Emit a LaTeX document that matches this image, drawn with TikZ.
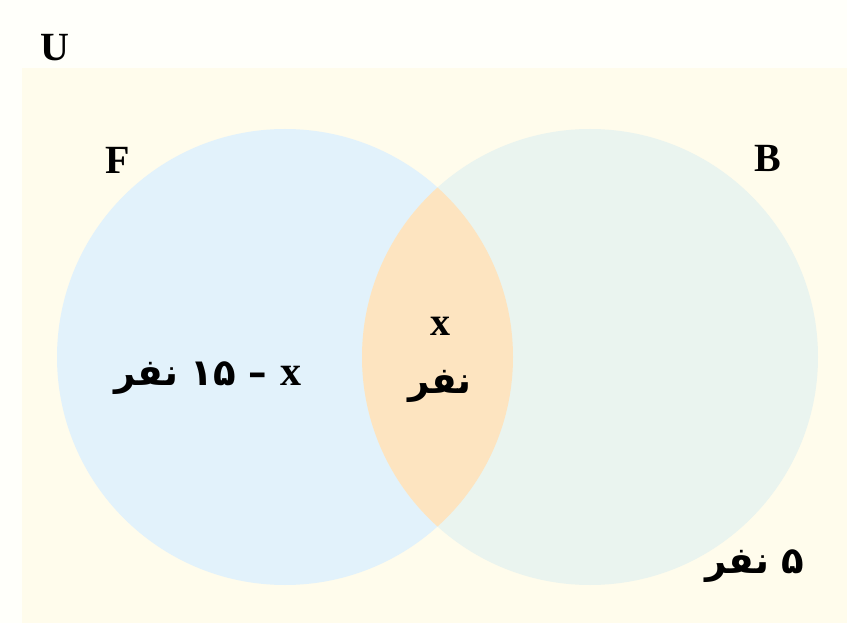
\documentclass[tikz,border=0pt]{standalone}
\usepackage{fontspec}
\setmainfont{Liberation Serif}
\newfontfamily\arabicfont[Script=Arabic]{DejaVu Sans}
\TeXXeTstate=1
\definecolor{outerbg}{HTML}{FFFFFA}
\definecolor{univ}{HTML}{FFFCEC}
\definecolor{setF}{HTML}{E2F2FB}
\definecolor{setB}{HTML}{EAF4EF}
\definecolor{lens}{HTML}{FDE4C0}
\tikzset{
  setlabel/.style={font=\fontsize{40}{44}\selectfont\bfseries, inner sep=0pt},
  arlabel/.style={font=\arabicfont\bfseries\fontsize{37}{40}\selectfont, inner sep=0pt},
}
\begin{document}
\begin{tikzpicture}[x=1pt,y=-1pt]
\useasboundingbox (0,0) rectangle (847,623);
\fill[outerbg] (0,0) rectangle (847,623);
\fill[univ] (22,68) rectangle (847,623);
% circles
\coordinate (cF) at (285,357);
\coordinate (cB) at (590,357);
\fill[setF] (cF) circle[radius=228];
\fill[setB] (cB) circle[radius=228];
\begin{scope}
  \clip (cF) circle[radius=228];
  \fill[lens] (cB) circle[radius=228];
\end{scope}
% labels
\node[setlabel] (U) at (55,48) {U};
\node[setlabel] (F) at (118,160) {F};
\node[setlabel] (B) at (768,158) {B};
\node[arlabel] (left) at (208,378) {\beginR{\fontspec{Liberation Serif}\bfseries\fontsize{42}{44}\selectfont x} – \beginL ۱۵\endL{} نفر\endR};
\node[setlabel] (midx) at (440,326) {x};
\node[arlabel] (midn) at (440,386) {\beginR نفر\endR};
\node[arlabel] (right) at (755,566) {\beginR ۵ نفر\endR};
\end{tikzpicture}
\end{document}
